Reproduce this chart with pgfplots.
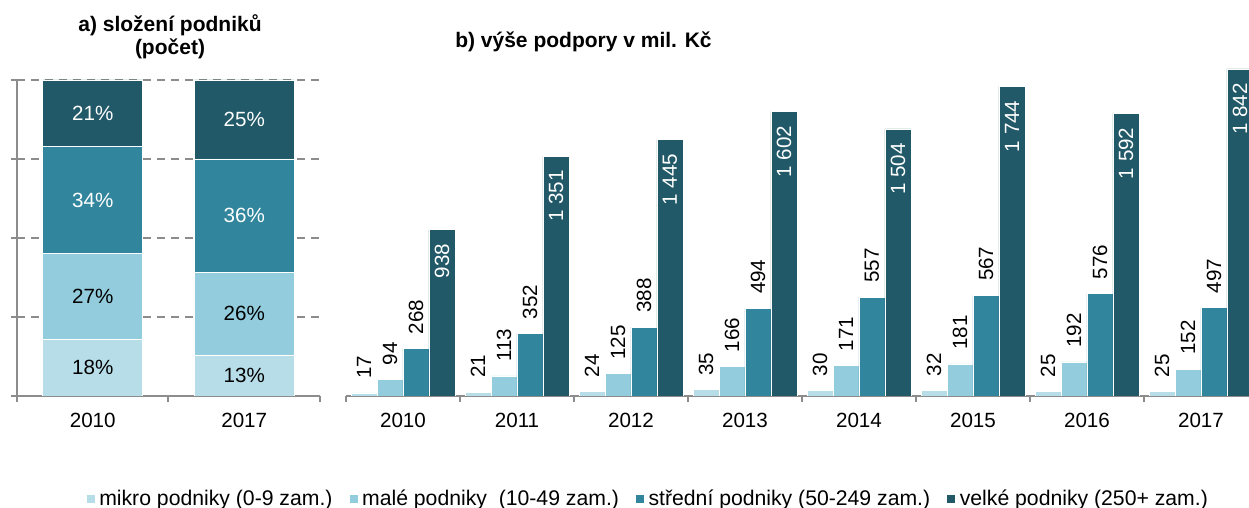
\documentclass[border=0pt]{standalone}
\usepackage{pgfplots}
\pgfplotsset{compat=1.18}
\usepackage{fontspec}
\setmainfont{Liberation Sans}

\definecolor{mikro}{HTML}{B7DEE8}
\definecolor{male}{HTML}{93CDDD}
\definecolor{stredni}{HTML}{31859C}
\definecolor{velke}{HTML}{215968}
\definecolor{osa}{HTML}{8C8C8C}

% vyse podpory v mil. Kc
\pgfplotstableread{
x mikro male stredni velke
0 17 94 268 938
1 21 113 352 1351
2 24 125 388 1445
3 35 166 494 1602
4 30 171 557 1504
5 32 181 567 1744
6 25 192 576 1592
7 25 152 497 1842
}\podpora

\begin{document}
\begin{tikzpicture}[font=\fontsize{10.3}{11.5}\selectfont]
\path[use as bounding box] (0,0) rectangle (624.5pt,254pt);

% a) slozeni podniku
\begin{axis}[
    at={(8.5pt,56pt)}, anchor=south west,
    scale only axis, width=151.5pt, height=158pt,
    ybar stacked, bar width=0.66,
    xmin=-0.5, xmax=1.5, ymin=0, ymax=100,
    axis lines=left, axis line style={osa, line width=1pt, -},
    tick align=outside, major tick length=3pt,
    tick style={osa, line width=1pt},
    xtick={-0.5,0.5,1.5}, xticklabels={},
    extra x ticks={0,1}, extra x tick labels={2010,2017},
    extra x tick style={major tick length=0pt},
    xticklabel style={yshift=-5pt},
    ytick={0,25,50,75,100}, yticklabels={},
    ymajorgrids, grid style={osa, line width=1pt, dash pattern=on 4pt off 3pt},
]
\addplot[fill=mikro, draw=white, line width=0.3pt] coordinates {(0,18) (1,13)};
\addplot[fill=male, draw=white, line width=0.3pt] coordinates {(0,27) (1,26)};
\addplot[fill=stredni, draw=white, line width=0.3pt] coordinates {(0,34) (1,36)};
\addplot[fill=velke, draw=white, line width=0.3pt] coordinates {(0,21) (1,25)};
\end{axis}

% popisky podilu
\begin{axis}[
    at={(8.5pt,56pt)}, anchor=south west,
    scale only axis, width=151.5pt, height=158pt,
    xmin=-0.5, xmax=1.5, ymin=0, ymax=100, hide axis,
    nodes near coords, point meta=explicit symbolic,
    nodes near coords style={anchor=center},
]
\addplot[draw=none, mark=none, nodes near coords style={text=black}]
    coordinates {(0,9)[18\%] (1,6.5)[13\%] (0,31.5)[27\%] (1,26)[26\%]};
\addplot[draw=none, mark=none, nodes near coords style={text=white}]
    coordinates {(0,62)[34\%] (1,57)[36\%] (0,89.5)[21\%] (1,87.5)[25\%]};
\end{axis}

% b) vyse podpory
\begin{axis}[
    at={(173pt,56pt)}, anchor=south west,
    scale only axis, width=456pt, height=177.6pt,
    ybar=0pt, bar width=0.228,
    xmin=-0.5, xmax=7.5, ymin=0, ymax=2000,
    axis x line=bottom, axis y line=none,
    axis line style={osa, line width=1.2pt, -},
    tick align=outside, major tick length=3pt,
    tick style={osa, line width=1pt},
    xtick={-0.5,0.5,1.5,2.5,3.5,4.5,5.5,6.5,7.5}, xticklabels={},
    extra x ticks={0,1,2,3,4,5,6,7},
    extra x tick labels={2010,2011,2012,2013,2014,2015,2016,2017},
    extra x tick style={major tick length=0pt},
    xticklabel style={yshift=-5pt},
    /pgf/number format/.cd, 1000 sep={\ }, assume math mode=true, /pgfplots/.cd,
    nodes near coords={\pgfmathprintnumber{\pgfplotspointmeta}},
    nodes near coords style={rotate=90, anchor=west, inner xsep=7pt},
    legend style={at={(0.332,-0.29)}, anchor=center, draw=none,
        font=\fontsize{10.6}{12}\selectfont,
        legend columns=4, /tikz/every even column/.append style={column sep=6pt}},
    legend image code/.code={\fill[#1] (0pt,-2.2pt) rectangle (4.5pt,2.3pt);},
]
\addplot[fill=mikro, draw=white, line width=0.3pt] table[x=x, y=mikro] {\podpora};
\addplot[fill=male, draw=white, line width=0.3pt] table[x=x, y=male] {\podpora};
\addplot[fill=stredni, draw=white, line width=0.3pt] table[x=x, y=stredni] {\podpora};
\addplot[fill=velke, draw=white, line width=0.3pt,
    nodes near coords style={anchor=east, text=white}] table[x=x, y=velke] {\podpora};
\legend{mikro podniky (0-9 zam.), malé podniky\ \ (10-49 zam.), střední podniky (50-249 zam.), velké podniky (250+ zam.)}
\end{axis}

\node[font=\fontsize{10.5}{11.5}\selectfont\bfseries, align=center] at (85pt,235.75pt) {a) složení podniků\\(počet)};
\node[font=\fontsize{10.5}{11.5}\selectfont\bfseries] at (291.75pt,233pt) {b) výše podpory v mil. Kč};
\end{tikzpicture}
\end{document}
